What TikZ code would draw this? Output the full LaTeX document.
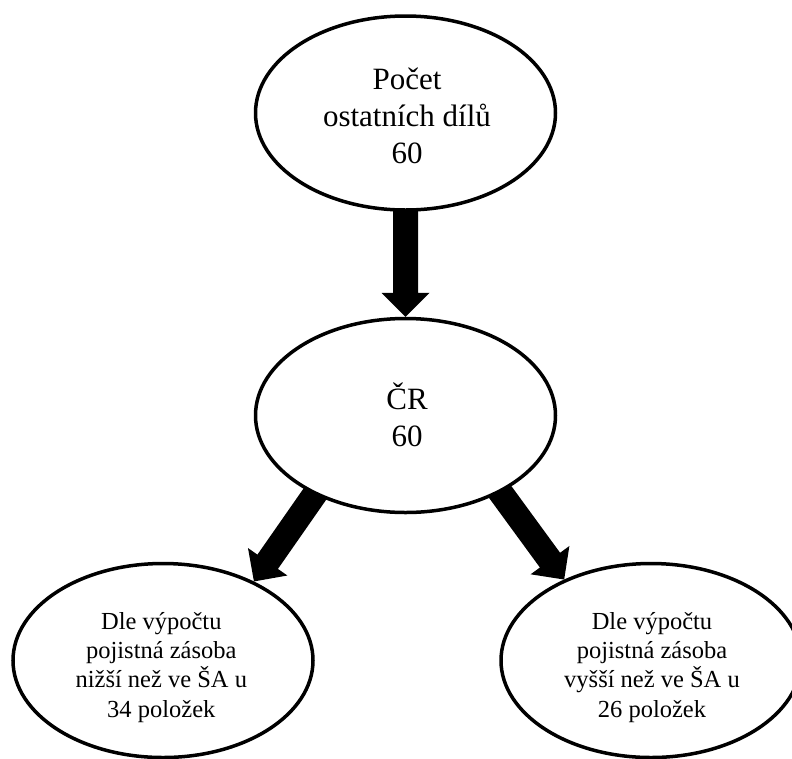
\documentclass[tikz,border=0pt]{standalone}
\usepackage{fontspec}
\setmainfont{Liberation Serif}
\usetikzlibrary{calc,shapes.geometric}
\pgfdeclarelayer{bg}
\pgfsetlayers{bg,main}
\tikzset{
  bubble/.style={ellipse, draw=black, line width=3.5pt, fill=white,
    minimum width=300pt, minimum height=194pt, inner sep=0pt},
  bigtxt/.style={align=center, font=\fontsize{31}{37}\selectfont, inner sep=0pt},
  smalltxt/.style={align=center, font=\fontsize{24.5}{29.3}\selectfont, inner sep=0pt},
  fatfill/.style={fill=black}
}
% fat arrow from #1 to #2 (tip at #2)
\newcommand\fatarr[2]{%
  \coordinate (fa-s) at ($(#1)!-8pt!(#2)$);
  \coordinate (fa-h) at ($(#2)!24pt!(#1)$);
  \fill[fatfill]
    ($(fa-s)!12.5pt!90:(#2)$) --
    ($(fa-h)!12.5pt!90:(#2)$) --
    ($(fa-h)!24pt!90:(#2)$) --
    (#2) --
    ($(fa-h)!24pt!-90:(#2)$) --
    ($(fa-h)!12.5pt!-90:(#2)$) --
    ($(fa-s)!12.5pt!-90:(#2)$) -- cycle;
}
\begin{document}
\begin{tikzpicture}[x=1pt,y=-1pt]
\useasboundingbox (0,0) rectangle (792,758);
\clip (0,0) rectangle (792,758);

\node[bubble] (top) at (405.5,113) {};
\node[bubble] (mid) at (405.5,415.5) {};
\node[bubble] (bl) at (163,660.5) {};
\node[bubble] (br) at (651,660.5) {};

\node[bigtxt] (topT) at (407,115.8) {Počet\\ostatních dílů\\60};
\node[bigtxt] (midT) at (407,415) {ČR\\60};
\node[smalltxt] (blT) at (161.3,667.3) {Dle výpočtu\\pojistná zásoba\\nižší než ve ŠA u\\34 položek};
\node[smalltxt] (brT) at (652,667.3) {Dle výpočtu\\pojistná zásoba\\vyšší než ve ŠA u\\26 položek};

\begin{pgfonlayer}{bg}
  \coordinate (a1s) at (top.south);
  \coordinate (a1e) at (mid.north);
  \fatarr{a1s}{a1e}
  \coordinate (a2s) at (mid.221.6);
  \coordinate (a2e) at (bl.41);
  \fatarr{a2s}{a2e}
  \coordinate (a3s) at (mid.321);
  \coordinate (a3e) at (br.137);
  \fatarr{a3s}{a3e}
\end{pgfonlayer}
\end{tikzpicture}
\end{document}
